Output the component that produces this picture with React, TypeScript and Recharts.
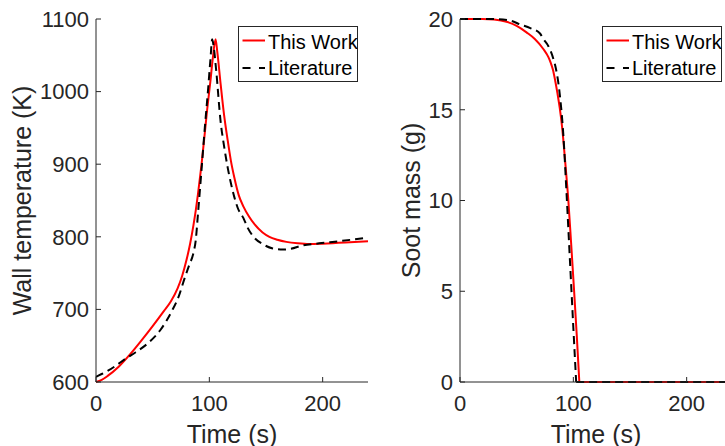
import React from 'react';
import { LineChart, Line, XAxis, YAxis, Legend, Label } from 'recharts';

const FONT = '"Liberation Sans", Arial, Helvetica, sans-serif';
const AXIS = '#262626';
const RED = '#ff0000';
const BLACK = '#000000';

const timeTicks = [0, 100, 200];
const tempTicks = [600, 700, 800, 900, 1000, 1100];
const sootTicks = [0, 5, 10, 15, 20];
const legendLabels = ['This Work', 'Literature'];
const timeLabel = 'Time (s)';
const tempLabel = 'Wall temperature (K)';
const sootLabel = 'Soot mass (g)';

// Wall temperature — This Work
const workTempTime = [0, 5, 10, 20, 30, 40, 50, 60, 66, 72, 76, 80, 83, 86, 88, 90, 93, 96, 98, 101, 103, 105.5, 107, 110, 113, 116, 119, 122, 126, 130, 135, 140, 147, 153, 160, 168, 178, 188, 200, 220, 240];
const workTempValue = [600, 603, 608, 621, 638, 657, 677, 698, 711, 729, 746, 769, 790, 816, 836, 859, 898, 943, 974, 1015, 1045, 1072, 1055, 1010, 968, 935, 905, 882, 857, 842, 828, 817, 806, 800, 796, 793, 791, 790, 790.5, 792, 794];

// Wall temperature — Literature
const litTempTime = [0, 5, 10, 18, 26, 35, 47, 57, 67, 73, 78, 82, 86, 88, 90, 93, 96, 99, 101, 102.5, 104, 106, 110, 113, 116, 119, 122, 125, 130, 134, 139, 147, 156, 165, 172, 182, 197, 215, 240];
const litTempValue = [607, 611, 615, 623, 632, 641, 655, 672, 698, 718, 742, 760, 778, 795, 832, 890, 950, 1005, 1045, 1072, 1060, 1030, 958, 925, 897, 874, 855, 840, 826, 812, 800, 790, 784, 782.5, 783.5, 788, 791, 794, 799];

// Soot mass — This Work
const workSootTime = [0, 20, 30, 41, 50, 59, 66, 73.5, 78, 80, 82, 84, 86, 88, 90, 93, 95.6, 98, 100.6, 103, 105.3, 120, 160, 200, 240];
const workSootValue = [20, 20, 19.97, 19.85, 19.62, 19.25, 18.9, 18.35, 17.9, 17.6, 17.2, 16.6, 15.9, 15.1, 14.1, 12.0, 10.0, 7.7, 5.1, 2.6, 0, 0, 0, 0, 0];

// Soot mass — Literature
const litSootTime = [0, 30, 45, 53, 62, 70.6, 73.5, 78, 82.4, 84.5, 86.5, 88.3, 90, 91.2, 94, 97, 100, 102.5, 120, 160, 200, 240];
const litSootValue = [20, 20, 19.9, 19.7, 19.5, 19.2, 18.9, 18.5, 17.8, 17.3, 16.6, 15.7, 14.6, 13.6, 10.4, 6.7, 3.0, 0, 0, 0, 0, 0];

type Pt = { t: number; v: number };
const zip = (ts: number[], vs: number[]): Pt[] => ts.map((t, i) => ({ t, v: vs[i] }));

// split a series where it first reaches zero so the corner stays sharp
function splitAtZero(pts: Pt[]): Pt[][] {
  const i = pts.findIndex((p) => p.v === 0);
  if (i < 0) return [pts];
  return [pts.slice(0, i + 1), pts.slice(i)];
}

type Series = { data: Pt[]; color: string; dash?: string; type: 'monotone' | 'linear' };

const LegendBox = () => (
  <svg width={120} height={56} style={{ display: 'block' }}>
    <rect x={0.5} y={0.5} width={119} height={55} fill="#ffffff" stroke={AXIS} strokeWidth={1} />
    <line x1={4.5} x2={27} y1={14.5} y2={14.5} stroke={RED} strokeWidth={2} />
    <text x={30} y={23} fontSize={20} fill={BLACK} fontFamily={FONT}>{legendLabels[0]}</text>
    <line x1={4.5} x2={27} y1={42} y2={42} stroke={BLACK} strokeWidth={2} strokeDasharray="8 8.5" />
    <text x={30} y={49} fontSize={20} fill={BLACK} fontFamily={FONT}>{legendLabels[1]}</text>
  </svg>
);

const tickStyle = { fontSize: 22, fill: AXIS, fontFamily: FONT };

function Panel(props: {
  left: number;
  series: Series[];
  yDomain: [number, number];
  yTicks: number[];
  yLabel: string;
  yLabelX: number;
}) {
  const { left, series, yDomain, yTicks, yLabel, yLabelX } = props;
  return (
    <div style={{ position: 'absolute', left, top: 0 }}>
      <LineChart width={370} height={446} margin={{ top: 19, right: 2, bottom: 0, left: 0 }}>
        <XAxis
          xAxisId="b"
          type="number"
          dataKey="t"
          domain={[0, 240]}
          ticks={timeTicks}
          interval={0}
          height={64}
          tickSize={-5}
          tickMargin={18}
          stroke={AXIS}
          tick={tickStyle}
        >
          <Label
            content={() => (
              <text x={232} y={443} textAnchor="middle" fontSize={25} fill={AXIS} fontFamily={FONT}>
                {timeLabel}
              </text>
            )}
          />
        </XAxis>
        <XAxis
          xAxisId="t"
          orientation="top"
          mirror
          type="number"
          dataKey="t"
          domain={[0, 240]}
          ticks={timeTicks}
          interval={0}
          height={0}
          tick={false}
          tickSize={5}
          stroke={AXIS}
          allowDataOverflow
        />
        <YAxis
          yAxisId="l"
          type="number"
          domain={yDomain}
          ticks={yTicks}
          interval={0}
          width={96}
          tickSize={-5}
          tickMargin={12}
          stroke={AXIS}
          tick={tickStyle}
        >
          <Label
            content={() => (
              <text
                x={yLabelX}
                y={200.5}
                transform={`rotate(-90 ${yLabelX} 200.5)`}
                textAnchor="middle"
                fontSize={25}
                fill={AXIS}
                fontFamily={FONT}
              >
                {yLabel}
              </text>
            )}
          />
        </YAxis>
        <YAxis
          yAxisId="r"
          orientation="right"
          mirror
          type="number"
          domain={yDomain}
          ticks={yTicks}
          interval={0}
          width={0}
          tick={false}
          tickSize={5}
          stroke={AXIS}
          allowDataOverflow
        />
        {series.map((s, i) => (
          <Line
            key={i}
            xAxisId="b"
            yAxisId="l"
            data={s.data}
            dataKey="v"
            type={s.type}
            stroke={s.color}
            strokeWidth={2}
            strokeDasharray={s.dash}
            dot={false}
            activeDot={false}
            isAnimationActive={false}
          />
        ))}
        <Legend
          layout="vertical"
          align="center"
          verticalAlign="middle"
          wrapperStyle={{ position: 'absolute', left: 238, top: 26, width: 120, height: 56, margin: 0, padding: 0 }}
          content={() => <LegendBox />}
        />
      </LineChart>
    </div>
  );
}

export default function App() {
  const workTemp = zip(workTempTime, workTempValue);
  const litTemp = zip(litTempTime, litTempValue);
  const [workSootDrop, workSootFlat] = splitAtZero(zip(workSootTime, workSootValue));
  const [litSootDrop, litSootFlat] = splitAtZero(zip(litSootTime, litSootValue));

  const tempSeries: Series[] = [
    { data: workTemp, color: RED, type: 'monotone' },
    { data: litTemp, color: BLACK, dash: '8 5', type: 'monotone' },
  ];
  const sootSeries: Series[] = [
    { data: workSootDrop, color: RED, type: 'monotone' },
    { data: workSootFlat, color: RED, type: 'linear' },
    { data: litSootDrop, color: BLACK, dash: '8 5', type: 'monotone' },
    { data: litSootFlat, color: BLACK, dash: '8 5', type: 'linear' },
  ];

  return (
    <div
      style={{
        position: 'absolute',
        left: 0,
        top: 0,
        width: 725,
        height: 446,
        overflow: 'hidden',
        background: '#ffffff',
        fontFamily: FONT,
      }}
    >
      <Panel left={0} series={tempSeries} yDomain={[600, 1100]} yTicks={tempTicks} yLabel={tempLabel} yLabelX={31} />
      <Panel left={364} series={sootSeries} yDomain={[0, 20]} yTicks={sootTicks} yLabel={sootLabel} yLabelX={56} />
    </div>
  );
}
